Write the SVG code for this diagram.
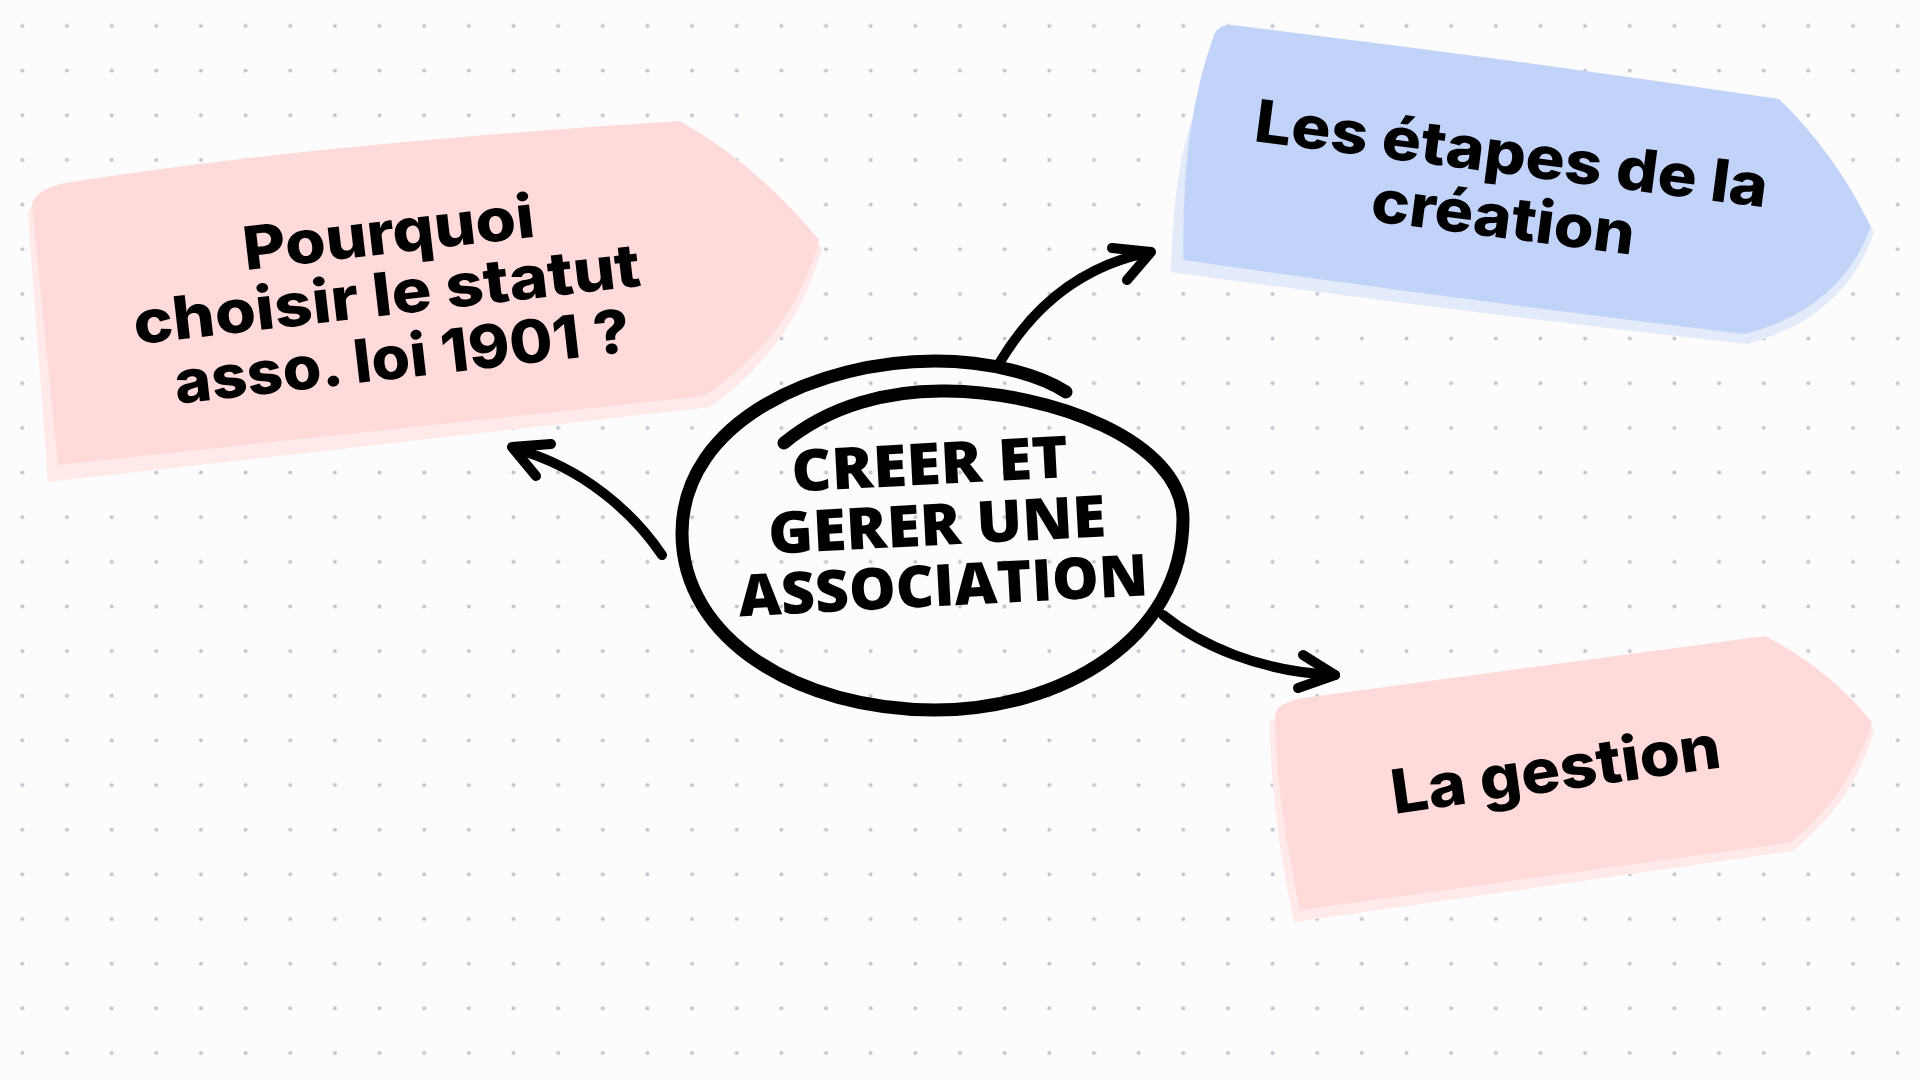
<svg xmlns="http://www.w3.org/2000/svg" width="1920" height="1080" viewBox="0 0 1920 1080">
<defs>
<pattern id="dots" patternUnits="userSpaceOnUse" x="0" y="3.67" width="44.651" height="44.651">
<circle cx="22.33" cy="22.33" r="2" fill="#c4c4cc"/>
</pattern>
<style>
.bg{fill:#fcfcfc}
.pink{fill:#ffdada}
.pinksh{fill:#ffe9e9}
.blue{fill:#c1d3f8}
.bluesh{fill:#e3eaf9}
.lbl{font-family:"Inter","Noto Sans","DejaVu Sans",sans-serif;font-weight:800;fill:#000;text-anchor:middle}
.ctr{font-family:"Open Sans","DejaVu Sans",sans-serif;font-weight:800;fill:#000;text-anchor:middle}
.ring{fill:none;stroke:#000;stroke-width:13;stroke-linecap:round;stroke-linejoin:round}
.con{fill:none;stroke:#000;stroke-width:10;stroke-linecap:round;stroke-linejoin:round}
</style>
</defs>
<rect class="bg" x="0" y="0" width="1920" height="1080"/>
<rect x="0" y="0" width="1920" height="1080" fill="url(#dots)"/>

<g id="node-pourquoi">
<path class="pinksh" d="M 48,482 L 28,215 Q 30,200 58,192 Q 300,152 680,128 Q 762,172 822,248 Q 796,346 710,407 Z"/>
<path class="pink" d="M 58,465 L 32,205 Q 33,192 60,184 Q 300,145 680,121 Q 756,164 819,240 Q 794,336 704,396 Z"/>
<g transform="rotate(-6.6 390 315)">
<text class="lbl" font-size="60" x="398" y="254" textLength="293" lengthAdjust="spacingAndGlyphs">Pourquoi</text>
<text class="lbl" font-size="60" x="389" y="315" textLength="510" lengthAdjust="spacingAndGlyphs">choisir le statut</text>
<text class="lbl" font-size="60" x="397" y="379" textLength="458" lengthAdjust="spacingAndGlyphs">asso. loi 1901 ?</text>
</g>
</g>

<g id="node-etapes">
<path class="bluesh" d="M 1171,272 Q 1173,175 1192,120 L 1300,100 L 1800,140 Q 1840,172 1874,232 Q 1845,318 1747,344 Q 1460,312 1171,272 Z"/>
<path class="blue" d="M 1183.5,260 Q 1181,126 1213,38 Q 1216,25 1232,25 Q 1505,58 1779,99 Q 1835,153 1871,227 Q 1840,310 1744,334 Q 1460,300 1183.5,260 Z"/>
<g transform="rotate(7.4 1505 205)">
<text class="lbl" font-size="59" x="1505" y="174" textLength="517" lengthAdjust="spacingAndGlyphs">Les étapes de la</text>
<text class="lbl" font-size="59" x="1505" y="238" textLength="265" lengthAdjust="spacingAndGlyphs">création</text>
</g>
</g>

<g id="node-gestion">
<path class="pinksh" d="M 1294,922 Q 1270,810 1270,720 L 1765,645 Q 1832,678 1874,730 Q 1856,800 1793,851 Z"/>
<path class="pink" d="M 1300,910 Q 1276,800 1275,715 Q 1276,703 1303,698 L 1765,636 Q 1828,668 1872,722 Q 1850,795 1790,843 Z"/>
<text class="lbl" font-size="61" x="1558.6" y="790.5" textLength="332" lengthAdjust="spacingAndGlyphs" transform="rotate(-8.1 1558.6 790.5)">La gestion</text>
</g>

<g id="node-centre">
<path class="ring" d="M 784,443 C 830,405 890,390 946,391 C 1050,392 1183,440 1183,519 C 1183,640 1060,710 935,710 C 800,710 682,640 682,533 C 682,420 820,361 935,361 C 990,361 1040,375 1066,392"/>
<g transform="rotate(-3 940 545)">
<text class="ctr" font-size="58" x="934" y="484" textLength="277" lengthAdjust="spacingAndGlyphs">CREER ET</text>
<text class="ctr" font-size="58" x="938" y="545" textLength="338" lengthAdjust="spacingAndGlyphs">GERER UNE</text>
<text class="ctr" font-size="58" x="941" y="606" textLength="410" lengthAdjust="spacingAndGlyphs">ASSOCIATION</text>
</g>
</g>

<g id="connectors">
<path class="con" d="M 662,555 C 635,515 585,468 516,449"/>
<path class="con" d="M 551,444 L 512,447 L 536,476"/>
<path class="con" d="M 1000,362 C 1025,320 1070,268 1150,252"/>
<path class="con" d="M 1112,248 L 1151,252 L 1127,280"/>
<path class="con" d="M 1163,615 C 1200,645 1260,672 1335,675"/>
<path class="con" d="M 1303,655 L 1335,675 L 1298,688"/>
</g>
</svg>
